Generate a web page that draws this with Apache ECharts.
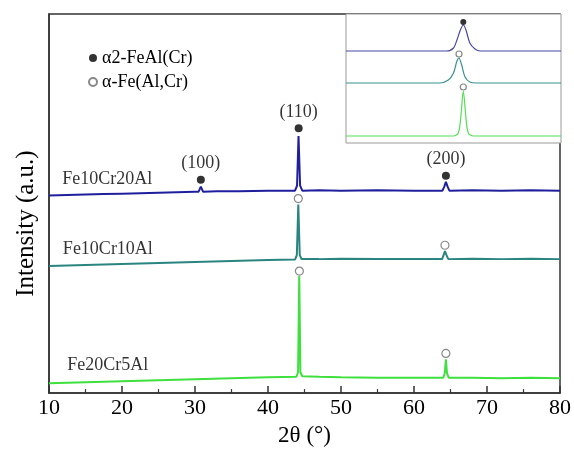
<!DOCTYPE html>
<html><head><meta charset="utf-8">
<script src="https://cdn.jsdelivr.net/npm/echarts@6/dist/echarts.min.js"></script>
<style>html,body{margin:0;padding:0;background:#fff}#c{width:574px;height:452px}</style>
</head><body><div id="c"></div>
<script>
// ---- data (2θ in degrees, intensity in arbitrary units) ----
const xTickLabels = ['10','20','30','40','50','60','70','80'];
const sampleNames = ['Fe10Cr20Al','Fe10Cr10Al','Fe20Cr5Al'];
const legendNames = ['α2-FeAl(Cr)','α-Fe(Al,Cr)'];

const fe10cr20al = [[10,199],[12.5,199.5],[15,200],[17.5,200.5],[20,201],[22.5,201.5],[25,202],[27.5,202.5],[30,203],[30.5,203],[30.8,208],[31.1,203],[33,203.5],[36,203.5],[40,204],[43.7,204],[43.98,209],[44.18,259],[44.4,209],[44.7,204],[47,204.5],[50,204],[55,204.5],[60,204],[63.9,204],[64.15,208],[64.37,213],[64.6,208],[64.85,204],[68,204.5],[72,204],[76,204.5],[80,204]];
const fe10cr10al = [[10,128],[12.5,128.5],[15,129],[17.5,129.5],[20,130],[22.5,130.5],[25,131],[27.5,131.5],[30,132],[32.5,132.5],[35,133],[37.5,133.5],[40,134],[43.7,134.5],[43.95,139],[44.15,190],[44.35,139],[44.6,135],[47,135],[50,135.5],[55,135],[60,135],[63.85,135],[64.05,139],[64.24,143],[64.45,139],[64.7,135],[68,135.5],[72,135],[76,135.5],[80,135]];
const fe20cr5al = [[10,10],[12.5,10.5],[15,11],[17.5,11.5],[20,12],[22.5,12.5],[25,13],[27.5,13.5],[30,14],[32.5,14.5],[35,15],[37.5,15.5],[40,16],[43.9,16.5],[44.12,21],[44.28,118],[44.44,21],[44.7,17],[47,16.5],[50,16],[55,15.5],[60,15.5],[64.0,15.5],[64.22,20],[64.37,34],[64.52,20],[64.75,15.5],[68,15.5],[72,15],[76,15.5],[80,15]];

// phase markers: [2θ, intensity, hkl label]
const alpha2Marks = [[30.8,215,'(100)'],[44.2,267,'(110)'],[64.37,219,'(200)']];
const alphaMarks = [[44.15,196],[64.24,149],[44.3,123],[64.37,40]];
// sample label anchors: [2θ, intensity]
const sampleLabelPos = [[11.8,215],[11.9,145],[12.5,28]];

// inset (zoom on a peak)
const insetFe10Cr20Al = [[43,92],[44.17,92],[44.25,95],[44.29,103],[44.33,113],[44.364,118],[44.395,113],[44.44,100],[44.5,94],[44.56,92],[45.5,92]];
const insetFe10Cr10Al = [[43,60],[44.09,60],[44.19,63],[44.25,70],[44.29,82],[44.314,85],[44.345,78],[44.384,66],[44.44,61],[44.52,60],[45.5,60]];
const insetFe20Cr5Al = [[43,7],[44.25,7],[44.306,10],[44.334,25],[44.364,52],[44.395,25],[44.422,10],[44.48,7],[45.5,7]];
const insetAlpha2 = [[44.364,121]];
const insetAlpha = [[44.314,89],[44.364,56]];

const serif = 'Liberation Serif';
const cBlue = '#1f1f9e', cTeal = '#2a8580', cGreen = '#3ee03e';

const chart = echarts.init(document.getElementById('c'), null, {renderer:'canvas'});
const hollow = {color:'#fff', borderColor:'#6a6a6a', borderWidth:1.2};
const filled = {color:'#000'};

chart.setOption({
  animation:false,
  backgroundColor:'#fff',
  textStyle:{fontFamily:serif, color:'#000'},
  legend:{
    data:legendNames, orient:'vertical', left:83, top:44,
    itemWidth:8, itemHeight:8, itemGap:6, icon:'circle',
    textStyle:{fontFamily:serif, fontSize:18, color:'#000', lineHeight:18},
    selectedMode:false
  },
  grid:[
    {left:49, right:13, top:14, bottom:56, show:true, borderColor:'#333', borderWidth:1.5},
    {left:346, right:13, top:14, height:129, show:true, borderColor:'#999', borderWidth:1, backgroundColor:'#fff'}
  ],
  xAxis:[
    {type:'value', gridIndex:0, min:10, max:80, interval:10,
     name:'2θ (°)', nameLocation:'middle', nameGap:30,
     nameTextStyle:{fontFamily:serif, fontSize:23, color:'#000'},
     axisLine:{show:true, lineStyle:{color:'#333', width:1.5}},
     axisTick:{show:true, inside:true, length:7, lineStyle:{color:'#333', width:1.5}},
     minorTick:{show:true, splitNumber:2, length:4, lineStyle:{color:'#333', width:1.2}},
     axisLabel:{fontFamily:serif, fontSize:22, color:'#000', margin:4,
       formatter:(v)=>xTickLabels[xTickLabels.indexOf(String(v))] || ''},
     splitLine:{show:false}},
    {type:'value', gridIndex:1, min:43, max:45.5, show:false, splitLine:{show:false}}
  ],
  yAxis:[
    {type:'value', gridIndex:0, min:0, max:382,
     name:'Intensity (a.u.)', nameLocation:'middle', nameGap:10,
     nameTextStyle:{fontFamily:serif, fontSize:25, color:'#000', padding:[0,40,0,0]},
     axisLine:{show:true, lineStyle:{color:'#333', width:1.5}},
     axisTick:{show:false}, axisLabel:{show:false}, splitLine:{show:false}},
    {type:'value', gridIndex:1, min:0, max:129, show:false, splitLine:{show:false}}
  ],
  series:[
    {type:'line', data:fe10cr20al, symbol:'none', lineStyle:{color:cBlue, width:2}, z:2},
    {type:'line', data:fe10cr10al, symbol:'none', lineStyle:{color:cTeal, width:2}, z:2},
    {type:'line', data:fe20cr5al, symbol:'none', lineStyle:{color:cGreen, width:2}, z:2},
    {type:'scatter', name:legendNames[0], symbol:'circle', symbolSize:8, itemStyle:filled, z:5,
     data:alpha2Marks.map(d=>({value:[d[0],d[1]], name:d[2]})),
     label:{show:true, position:'top', distance:3, formatter:'{b}', fontFamily:serif, fontSize:18, color:'#000'}},
    {type:'scatter', name:legendNames[1], symbol:'circle', symbolSize:8, itemStyle:hollow, z:5,
     data:alphaMarks},
    {type:'scatter', symbolSize:0, z:5, silent:true,
     data:sampleLabelPos.map((d,i)=>({value:d, name:sampleNames[i]})),
     label:{show:true, position:'right', distance:0, formatter:'{b}', fontFamily:serif, fontSize:18, color:'#000'}},
    {type:'line', xAxisIndex:1, yAxisIndex:1, data:insetFe10Cr20Al, symbol:'none', smooth:0.3, lineStyle:{color:'#4848a8', width:1.2}, z:6},
    {type:'line', xAxisIndex:1, yAxisIndex:1, data:insetFe10Cr10Al, symbol:'none', smooth:0.3, lineStyle:{color:'#3a9090', width:1.2}, z:6},
    {type:'line', xAxisIndex:1, yAxisIndex:1, data:insetFe20Cr5Al, symbol:'none', smooth:0.3, lineStyle:{color:'#55dd55', width:1.2}, z:6},
    {type:'scatter', xAxisIndex:1, yAxisIndex:1, symbolSize:6, itemStyle:filled, data:insetAlpha2, z:7},
    {type:'scatter', xAxisIndex:1, yAxisIndex:1, symbolSize:6, itemStyle:hollow, data:insetAlpha, z:7}
  ]
});
</script></body></html>
